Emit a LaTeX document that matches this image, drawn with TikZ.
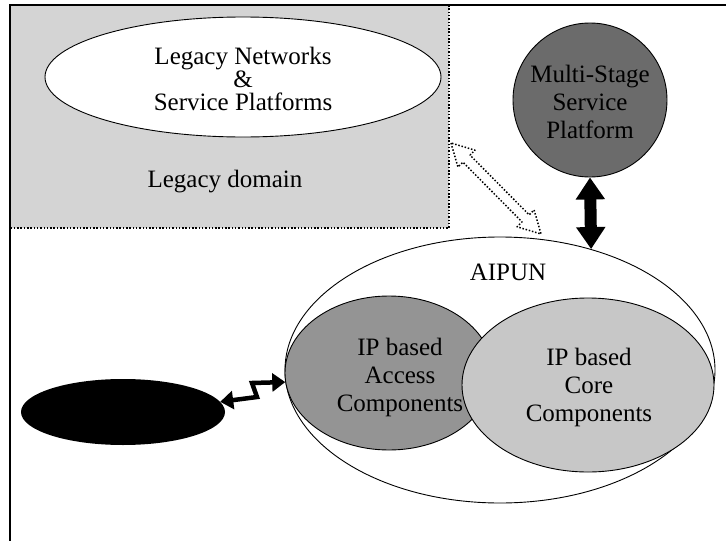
\documentclass[tikz,border=0pt]{standalone}
\usepackage{fontspec}
\setmainfont{Liberation Serif}
\usetikzlibrary{shapes.geometric}
\usetikzlibrary{arrows.meta}
\tikzset{
  oval/.style={ellipse, draw=black, line width=0.9pt, inner sep=0pt},
  lbl/.style={font=\fontsize{25}{23}\selectfont, align=center, inner sep=0pt},
  biglbl/.style={lbl, font=\fontsize{25}{28}\selectfont},
  fatarrow/.style={line width=12pt, {Triangle[length=22pt,width=28pt]}-{Triangle[length=22pt,width=28pt]}},
  zigarrow/.style={line width=4.5pt, {Triangle[length=13pt,width=18pt]}-{Triangle[length=13pt,width=18pt]}},
  dotborder/.style={line width=1.5pt, dash pattern=on 1.5pt off 1.8pt},
}

\begin{document}
\begin{tikzpicture}[x=1pt,y=-1pt]
\useasboundingbox (0,0) rectangle (726,541);
\fill[black!17] (10,5) rectangle (449,228);
\draw[dotborder] (449,5) -- (449,228) -- (10,228);
\draw[line width=1.2pt] (10,541) -- (10,5) -- (726,5);
\node[oval, fill=white, minimum width=396pt, minimum height=120pt] (legacy) at (243,77) {};
\node[lbl] (legacylbl) at (243,79) {Legacy Networks\\\&\\Service Platforms};
\node[lbl] (domain) at (225,182) {Legacy domain};

\node[oval, fill=black!58, minimum width=154pt, minimum height=154pt] (msp) at (590,100) {};
\node[biglbl] (msplbl) at (590,102) {Multi-Stage\\Service\\Platform};

\node[oval, minimum width=430pt, minimum height=266pt] (aipun) at (500,370) {};
\node[lbl] (aipunlbl) at (508,272) {AIPUN};
\node[oval, fill=black!42, minimum width=208pt, minimum height=154pt] (access) at (389,373) {};
\node[oval, fill=black!22, minimum width=252pt, minimum height=174pt] (core) at (588,385) {};
\node[biglbl] (corelbl) at (589,387) {IP based\\Core\\Components};
\node[biglbl] (accesslbl) at (400,377) {IP based\\Access\\Components};

\node[ellipse, fill=black, minimum width=204pt, minimum height=66pt] (terminal) at (123,412) {};

\draw[fatarrow] (msp.south) -- (aipun.53);
\draw[zigarrow] (terminal.6) -- (257,397) -- (252,383) -- (access.185);

\coordinate (dotA) at (451,143);
\begin{scope}[shift={(dotA)}, rotate=-45.3]
\draw[dotborder, line join=round] (0,0) -- (22,12) -- (22,5) -- (106,5) -- (106,12) -- (128,0)
  -- (106,-12) -- (106,-5) -- (22,-5) -- (22,-12) -- cycle;
\end{scope}
\end{tikzpicture}
\end{document}
